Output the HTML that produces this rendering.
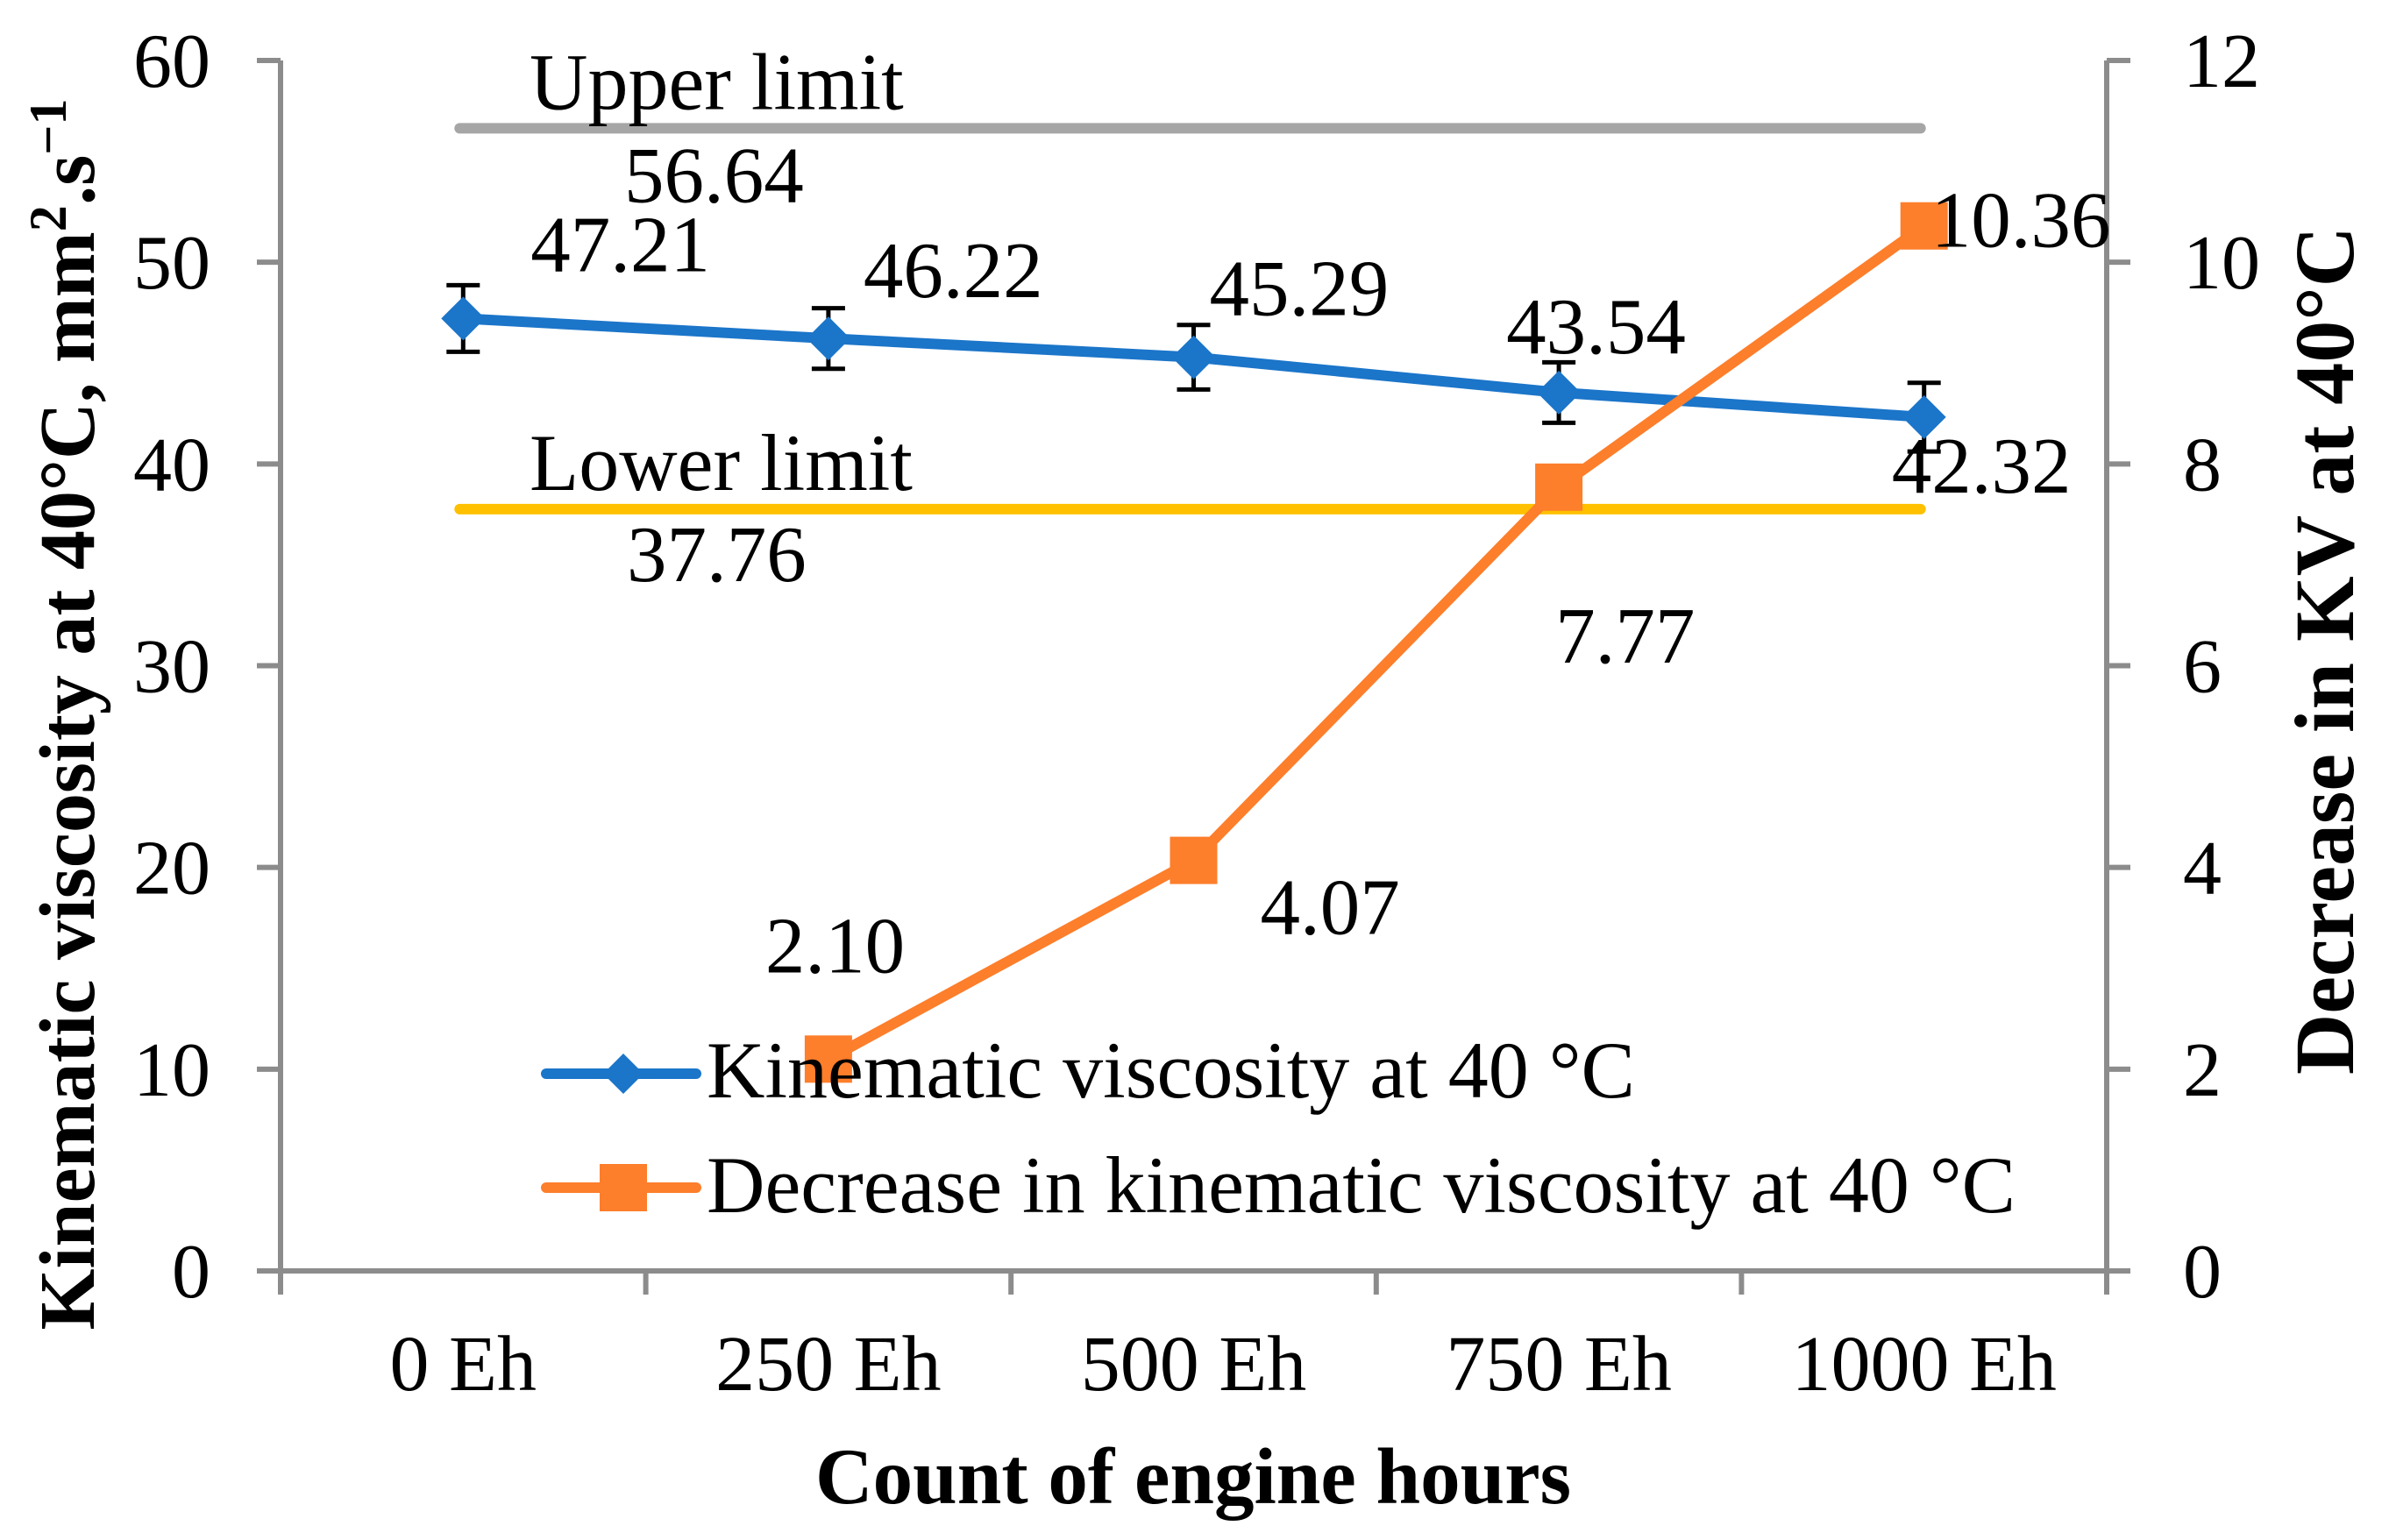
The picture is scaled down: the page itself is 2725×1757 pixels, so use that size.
<!DOCTYPE html>
<html><head><meta charset="utf-8"><style>
html,body{margin:0;padding:0;background:#fff;}
svg{display:block;}
text{font-family:"Liberation Serif","Times New Roman",serif;fill:#000;}
</style></head><body>
<svg id="chart" width="2725" height="1757" viewBox="0 0 2725 1757" xmlns="http://www.w3.org/2000/svg">
<rect width="2725" height="1757" fill="#fff"/>
<g id="limits"></g>
<g id="axes"></g>
<g id="series"></g>
<g id="labels"></g>
<g id="legend">
  <line x1="623" y1="1225" x2="794" y2="1225" stroke="#1B75C9" stroke-width="12" stroke-linecap="round"/>
  <polygon points="711,1202 734,1225 711,1248 688,1225" fill="#1B75C9"/>
  <text x="806" y="1252" font-size="92">Kinematic viscosity at 40 °C</text>
  <line x1="623" y1="1355" x2="794" y2="1355" stroke="#FD7E2B" stroke-width="12" stroke-linecap="round"/>
  <rect x="684" y="1328" width="54" height="54" fill="#FD7E2B"/>
  <text x="806" y="1383" font-size="92">Decrease in kinematic viscosity at 40 °C</text>
</g>
<text x="0" y="0" font-size="90" font-weight="bold" text-anchor="middle" transform="translate(107,815) rotate(-90)">Kinematic viscosity at 40°C, mm<tspan font-size="60" dy="-32">2</tspan><tspan dy="32">.s</tspan><tspan font-size="60" dy="-32">−1</tspan></text>
<text x="0" y="0" font-size="96" font-weight="bold" text-anchor="middle" transform="translate(2684,742) rotate(-90)">Decrease in KV at 40°C</text>
<text x="1361" y="1715" font-size="91" font-weight="bold" text-anchor="middle">Count of engine hours</text>
</svg>
<script>
const categories = ["0 Eh","250 Eh","500 Eh","750 Eh","1000 Eh"];
const kvValues = [47.21, 46.22, 45.29, 43.54, 42.32];
const kvErrors = [1.65, 1.5, 1.6, 1.5, 1.7];
const decCategories = ["250 Eh","500 Eh","750 Eh","1000 Eh"];
const decValues = [2.10, 4.07, 7.77, 10.36];
const leftTicks = [0,10,20,30,40,50,60];
const rightTicks = [0,2,4,6,8,10,12];
const upperLimit = 56.64;
const lowerLimit = 37.76;

const NS = "http://www.w3.org/2000/svg";
const X0 = 320, X1 = 2403, Y0 = 1450, Y1 = 69;
const catW = (X1 - X0) / categories.length;
function xPos(cat){ return X0 + catW * (categories.indexOf(cat) + 0.5); }
function yL(v){ return Y0 - (v / 60) * (Y0 - Y1); }
function yR(v){ return Y0 - (v / 12) * (Y0 - Y1); }
function mk(tag, attrs, parent){
  const e = document.createElementNS(NS, tag);
  for (const k in attrs) e.setAttribute(k, attrs[k]);
  parent.appendChild(e); return e;
}
const gA = document.getElementById('axes');
const gS = document.getElementById('series');
const gL = document.getElementById('labels');
const gLim = document.getElementById('limits');
const axisC = "#8C8C8C";

let ax = mk('line',{x1:X0,y1:Y1,x2:X0,y2:Y0+27,stroke:axisC,'stroke-width':6},gA);


ax = mk('line',{x1:X1,y1:Y1,x2:X1,y2:Y0+27,stroke:axisC,'stroke-width':6},gA);


ax = mk('line',{x1:X0-27,y1:Y0,x2:X1+27,y2:Y0,stroke:axisC,'stroke-width':6},gA);


leftTicks.forEach(t=>{
  const y = yL(t);
  const l = mk('line',{x1:X0-27,y1:y,x2:X0,y2:y,stroke:axisC,'stroke-width':6},gA);
  
  
  const tx = mk('text',{x:240,y:y+30,'font-size':88,'text-anchor':'end'},gA);
  
  
  tx.textContent = t;
});
rightTicks.forEach(t=>{
  const y = yR(t);
  const l = mk('line',{x1:X1,y1:y,x2:X1+27,y2:y,stroke:axisC,'stroke-width':6},gA);
  
  
  const tx = mk('text',{x:2490,y:y+30,'font-size':88,'text-anchor':'start'},gA);
  
  
  tx.textContent = t;
});
for (let i=0;i<=categories.length;i++){
  const x = X0 + catW*i;
  const l = mk('line',{x1:x,y1:Y0,x2:x,y2:Y0+27,stroke:axisC,'stroke-width':6},gA);
  
  
}
categories.forEach(c=>{
  const tx = mk('text',{x:xPos(c),y:1586,'font-size':90,'text-anchor':'middle'},gA);
  
  
  tx.textContent = c;
});

const xa = xPos(categories[0]) - 4, xb = xPos(categories[categories.length-1]) - 4;
let lim = mk('line',{x1:xa,y1:yL(upperLimit),x2:xb,y2:yL(upperLimit),stroke:'#A6A6A6','stroke-width':12,'stroke-linecap':'round'},gLim);


lim = mk('line',{x1:xa,y1:yL(lowerLimit),x2:xb,y2:yL(lowerLimit),stroke:'#FFC000','stroke-width':12,'stroke-linecap':'round'},gLim);


let t = mk('text',{x:604,y:yL(upperLimit)-22,'font-size':92},gL);


t.textContent = 'Upper limit';
t = mk('text',{x:712,y:yL(upperLimit)+84,'font-size':91},gL);


t.textContent = upperLimit.toFixed(2);
t = mk('text',{x:604,y:yL(lowerLimit)-22,'font-size':92},gL);


t.textContent = 'Lower limit';
t = mk('text',{x:715,y:yL(lowerLimit)+82,'font-size':91},gL);


t.textContent = lowerLimit.toFixed(2);

const kvPts = kvValues.map((v,i)=>[xPos(categories[i]), yL(v)]);
const kvLine = mk('polyline',{points:kvPts.map(p=>p.join(',')).join(' '),fill:'none',stroke:'#1B75C9','stroke-width':12,'stroke-linejoin':'round'},gS);


kvValues.forEach((v,i)=>{
  const x = kvPts[i][0], yt = yL(v+kvErrors[i]), yb = yL(v-kvErrors[i]);
  const eb = mk('path',{d:`M${x},${yt}V${yb}M${x-19},${yt}H${x+19}M${x-19},${yb}H${x+19}`,stroke:'#000','stroke-width':5,fill:'none'},gS);
  
  
  const y = kvPts[i][1];
  const d = mk('polygon',{points:`${x},${y-25} ${x+25},${y} ${x},${y+25} ${x-25},${y}`,fill:'#1B75C9'},gS);
  
  
});
const decPts = decValues.map((v,i)=>[xPos(decCategories[i]), yR(v)]);
const decLine = mk('polyline',{points:decPts.map(p=>p.join(',')).join(' '),fill:'none',stroke:'#FD7E2B','stroke-width':12,'stroke-linejoin':'round'},gS);


decPts.forEach(p=>{
  const r = mk('rect',{x:p[0]-27,y:p[1]-27,width:54,height:54,fill:'#FD7E2B'},gS);
  
  
});

const kvLabelOff = [[77,-54],[40,-47],[18,-48],[-60,-45],[-37,86]];
kvValues.forEach((v,i)=>{
  const tx = mk('text',{x:kvPts[i][0]+kvLabelOff[i][0],y:kvPts[i][1]+kvLabelOff[i][1],'font-size':91},gL);
  
  
  tx.textContent = v.toFixed(2);
});
const decLabelOff = [[-72,-99],[76,84],[-4,200],[8,24]];
decValues.forEach((v,i)=>{
  const tx = mk('text',{x:decPts[i][0]+decLabelOff[i][0],y:decPts[i][1]+decLabelOff[i][1],'font-size':91},gL);
  
  
  tx.textContent = v.toFixed(2);
});
</script>
</body></html>
